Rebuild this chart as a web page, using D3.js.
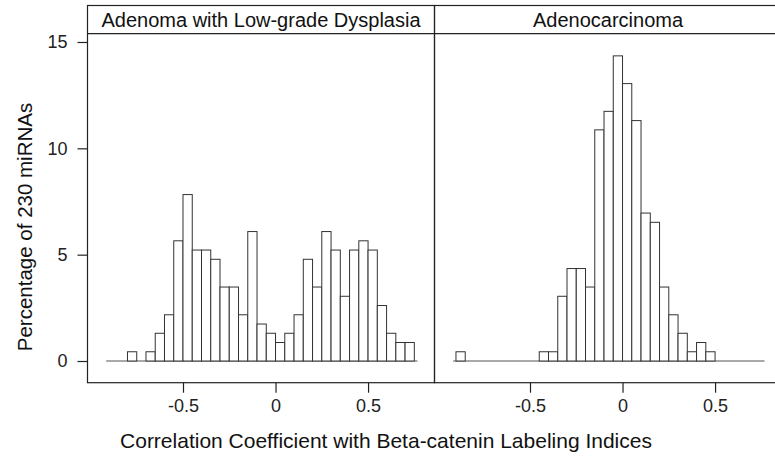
<!DOCTYPE html>
<html>
<head>
<meta charset="utf-8">
<script src="https://cdn.jsdelivr.net/npm/d3@7"></script>
<style>
  body { margin: 0; background: #fff; }
  svg { display: block; font-family: "Liberation Sans", Arial, sans-serif; }
</style>
</head>
<body>
<script>
// histogram bins (left edges), width 0.05
var binLeft = [-0.9, -0.85, -0.8, -0.75, -0.7, -0.65, -0.6, -0.55, -0.5, -0.45, -0.4,
               -0.35, -0.3, -0.25, -0.2, -0.15, -0.1, -0.05, 0, 0.05, 0.1, 0.15,
               0.2, 0.25, 0.3, 0.35, 0.4, 0.45, 0.5, 0.55, 0.6, 0.65, 0.7];
var binWidth = 0.05;
var totalMirnas = 230;

var panelNames = ["Adenoma with Low-grade Dysplasia", "Adenocarcinoma"];
var adenomaCounts = [0, 0, 1, 0, 1, 3, 5, 13, 18, 12, 12, 11, 8, 8, 5, 14, 4, 3, 2, 3, 5,
                     11, 8, 14, 12, 7, 12, 13, 12, 6, 3, 2, 2];
var carcinomaCounts = [1, 0, 0, 0, 0, 0, 0, 0, 0, 1, 1, 7, 10, 10, 8, 25, 27, 33, 30, 26, 16,
                       15, 8, 5, 3, 1, 2, 1, 0, 0, 0, 0, 0];

var xTicks = [-0.5, 0, 0.5];
var yTicks = [0, 5, 10, 15];
var baseRange = [-0.915, 0.767];

var W = 775, H = 464;
var panelW = 347, plotLeft = 87.5, plotTop = 5.5, stripH = 28.2, plotBottom = 382.7;

var svg = d3.select("body").append("svg")
    .attr("width", W)
    .attr("height", H);

var yScale = d3.scaleLinear()
    .domain([-1.02, 15.39])
    .range([plotBottom, plotTop + stripH]);

var panels = [adenomaCounts, carcinomaCounts];

panels.forEach(function(counts, p) {
  var x0 = plotLeft + p * panelW;
  var xScale = d3.scaleLinear()
      .domain([-1.016, 0.859])
      .range([x0, x0 + panelW]);

  var bins = binLeft.map(function(b, i) {
    return { x: b, pct: counts[i] / totalMirnas * 100 };
  }).filter(function(d) { return d.pct > 0; });

  var g = svg.append("g");

  // baseline
  g.append("line")
      .attr("x1", xScale(baseRange[0]))
      .attr("x2", xScale(baseRange[1]))
      .attr("y1", yScale(0))
      .attr("y2", yScale(0))
      .attr("stroke", "#555")
      .attr("stroke-width", 1.2);

  g.selectAll(".bar")
      .data(bins)
    .enter().append("rect")
      .attr("class", "bar")
      .attr("x", function(d) { return xScale(d.x); })
      .attr("width", function(d) { return xScale(d.x + binWidth) - xScale(d.x); })
      .attr("y", function(d) { return yScale(d.pct); })
      .attr("height", function(d) { return yScale(0) - yScale(d.pct); })
      .attr("fill", "#fff")
      .attr("stroke", "#333")
      .attr("stroke-width", 1);

  // panel border
  g.append("rect")
      .attr("x", x0)
      .attr("y", plotTop)
      .attr("width", panelW)
      .attr("height", plotBottom - plotTop)
      .attr("fill", "none")
      .attr("stroke", "#222")
      .attr("stroke-width", 1.2);

  // strip
  g.append("line")
      .attr("x1", x0).attr("x2", x0 + panelW)
      .attr("y1", plotTop + stripH).attr("y2", plotTop + stripH)
      .attr("stroke", "#222")
      .attr("stroke-width", 1.2);
  g.append("text")
      .attr("x", x0 + panelW / 2)
      .attr("y", plotTop + stripH / 2 + 7)
      .attr("text-anchor", "middle")
      .attr("font-size", 20)
      .attr("fill", "#111")
      .text(panelNames[p]);

  // x axis
  var xAxis = g.append("g")
      .attr("transform", "translate(0," + plotBottom + ")")
      .call(d3.axisBottom(xScale)
            .tickValues(xTicks)
            .tickSize(10)
            .tickPadding(7)
            .tickFormat(function(d) { return d === 0 ? "0" : String(d); }));
  xAxis.select(".domain").remove();
  xAxis.selectAll("line").attr("stroke", "#222").attr("stroke-width", 1.2);
  xAxis.selectAll("text").attr("font-size", 18).attr("fill", "#222")
      .attr("font-family", "Liberation Sans, Arial, sans-serif");
});

var yAxis = svg.append("g")
    .attr("transform", "translate(" + plotLeft + ",0)")
    .call(d3.axisLeft(yScale)
          .tickValues(yTicks)
          .tickSize(10)
          .tickPadding(10));
yAxis.select(".domain").remove();
yAxis.selectAll("line").attr("stroke", "#222").attr("stroke-width", 1.2);
yAxis.selectAll("text").attr("font-size", 18).attr("fill", "#222")
    .attr("font-family", "Liberation Sans, Arial, sans-serif");

svg.append("text")
    .attr("transform", "translate(32,227) rotate(-90)")
    .attr("text-anchor", "middle")
    .attr("font-size", 20.5)
    .attr("fill", "#111")
    .text("Percentage of 230 miRNAs");

svg.append("text")
    .attr("x", 386)
    .attr("y", 448)
    .attr("text-anchor", "middle")
    .attr("font-size", 21)
    .attr("fill", "#111")
    .text("Correlation Coefficient with Beta-catenin Labeling Indices");
</script>
</body>
</html>
